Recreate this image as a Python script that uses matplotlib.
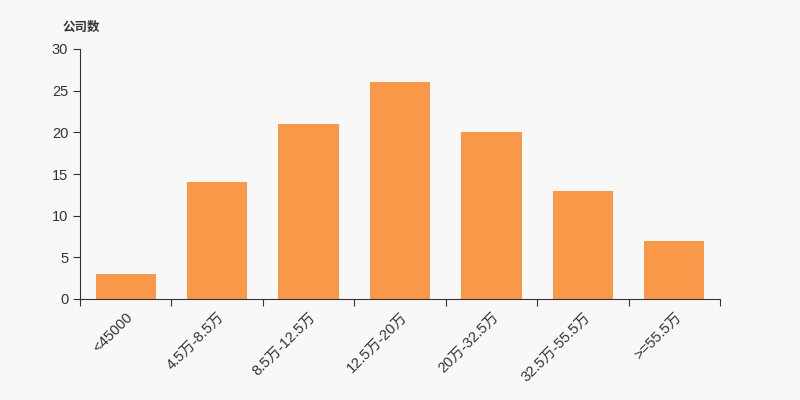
import matplotlib
matplotlib.use("Agg")
import matplotlib.pyplot as plt

plt.rcParams['font.family'] = ['Liberation Sans', 'Noto Sans CJK SC', 'DejaVu Sans']

categories = ["<45000", "4.5万-8.5万", "8.5万-12.5万", "12.5万-20万", "20万-32.5万", "32.5万-55.5万", ">=55.5万"]
counts = [3, 14, 21, 26, 20, 13, 7]
y_ticks = [0, 5, 10, 15, 20, 25, 30]

fig = plt.figure(figsize=(8, 4), dpi=100, facecolor="#f8f8f8")
ax = fig.add_axes([0.1, 0.2525, 0.8, 0.625])
ax.set_facecolor("#f8f8f8")

x = list(range(len(categories)))
ax.bar(x, counts, width=0.66, color="#f89848")

ax.set_xlim(-0.5, len(categories) - 0.5)
ax.set_ylim(0, 30)
ax.set_yticks(y_ticks)

# tick marks at category boundaries, labels at centers
ax.set_xticks([i - 0.5 for i in range(len(categories) + 1)])
ax.set_xticklabels([])
ax.set_xticks(x, minor=True)
ax.set_xticklabels(categories, minor=True, rotation=45, ha="right", rotation_mode="anchor")
ax.tick_params(axis="x", which="minor", length=0, pad=8, labelsize=10.5, labelcolor="#333333")
ax.tick_params(axis="x", which="major", length=5, color="#333333")
ax.tick_params(axis="y", length=5, color="#333333", labelsize=10.5, labelcolor="#333333")

for s in ["top", "right"]:
    ax.spines[s].set_visible(False)
for s in ["left", "bottom"]:
    ax.spines[s].set_color("#333333")

fig.text(0.078, 0.93, "公司数", fontsize=9, fontweight="bold", color="#333333", va="center")

fig.savefig("out.png", dpi=100, facecolor=fig.get_facecolor())
